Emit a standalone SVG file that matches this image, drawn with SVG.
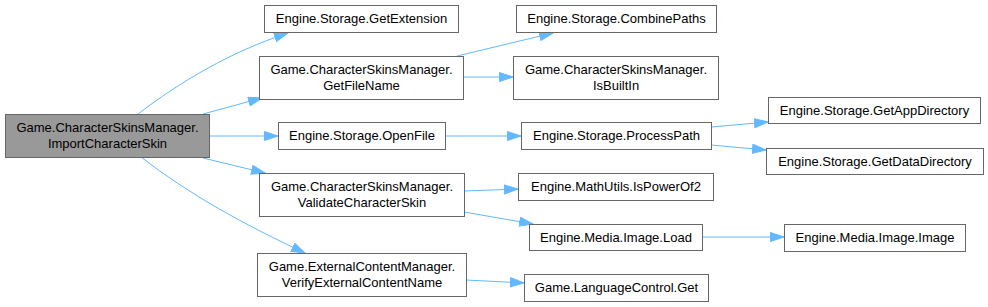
<svg xmlns="http://www.w3.org/2000/svg" width="988" height="307" viewBox="0 0 988 307">
<style>
.n rect{fill:#fff;stroke:#666;stroke-width:1}
.n.root rect{fill:#999}
.n text{font-family:"Liberation Sans",Arial,sans-serif;font-size:13px;fill:#000;text-anchor:middle}
.e path{fill:none;stroke:#63b8ff;stroke-width:1;marker-end:url(#ah)}
</style>
<defs>
<marker id="ah" markerUnits="userSpaceOnUse" markerWidth="16" markerHeight="12" refX="14" refY="5" orient="auto">
<path d="M0.5,0.5 L14,5 L0.5,9.5 z" fill="#63b8ff" stroke="#63b8ff" stroke-width="1"/>
</marker>
</defs>
<rect width="988" height="307" fill="#fff"/>
<g id="edges" class="e">
<path d="M138,114 C180,82 230,52 288,33"/>
<path d="M203,114 L262,98"/>
<path d="M210,136 L278,136"/>
<path d="M203,158 L265,173"/>
<path d="M141,157 C190,195 245,225 305,253"/>
<path d="M457,56 L553,33"/>
<path d="M463,77 L513,77"/>
<path d="M445,136 L521,136"/>
<path d="M711,127 L768,122"/>
<path d="M711,145 L766,150"/>
<path d="M464,191 L518,189"/>
<path d="M464,212 L533,224"/>
<path d="M702,237 L784,237"/>
<path d="M466,280 L524,283"/>
</g>
<g id="root" class="n root"><rect x="5.5" y="114.5" width="204" height="43"/><text x="107.5" y="131.5">Game.CharacterSkinsManager.</text><text x="107.5" y="147.5">ImportCharacterSkin</text></g>
<g id="getextension" class="n"><rect x="264.5" y="5.5" width="194" height="27"/><text x="361.5" y="22.5">Engine.Storage.GetExtension</text></g>
<g id="getfilename" class="n"><rect x="259.5" y="56.5" width="204" height="43"/><text x="361.5" y="73.5">Game.CharacterSkinsManager.</text><text x="361.5" y="89.5">GetFileName</text></g>
<g id="openfile" class="n"><rect x="278.5" y="122.5" width="167" height="27"/><text x="362" y="139.5">Engine.Storage.OpenFile</text></g>
<g id="validate" class="n"><rect x="259.5" y="173.5" width="205" height="43"/><text x="362" y="190.5">Game.CharacterSkinsManager.</text><text x="362" y="206.5">ValidateCharacterSkin</text></g>
<g id="verify" class="n"><rect x="257.5" y="253.5" width="209" height="43"/><text x="362" y="270.5">Game.ExternalContentManager.</text><text x="362" y="286.5">VerifyExternalContentName</text></g>
<g id="combinepaths" class="n"><rect x="516.5" y="5.5" width="200" height="27"/><text x="616.5" y="22.5">Engine.Storage.CombinePaths</text></g>
<g id="isbuiltin" class="n"><rect x="513.5" y="56.5" width="205" height="43"/><text x="616" y="73.5">Game.CharacterSkinsManager.</text><text x="616" y="89.5">IsBuiltIn</text></g>
<g id="processpath" class="n"><rect x="521.5" y="122.5" width="190" height="27"/><text x="616.5" y="139.5">Engine.Storage.ProcessPath</text></g>
<g id="ispowerof2" class="n"><rect x="518.5" y="173.5" width="195" height="27"/><text x="616" y="190.5">Engine.MathUtils.IsPowerOf2</text></g>
<g id="imageload" class="n"><rect x="529.5" y="224.5" width="173" height="26"/><text x="616" y="241.5">Engine.Media.Image.Load</text></g>
<g id="langget" class="n"><rect x="524.5" y="274.5" width="184" height="27"/><text x="616.5" y="291.5">Game.LanguageControl.Get</text></g>
<g id="getappdir" class="n"><rect x="768.5" y="97.5" width="212" height="26"/><text x="874.5" y="114.5">Engine.Storage.GetAppDirectory</text></g>
<g id="getdatadir" class="n"><rect x="766.5" y="148.5" width="217" height="26"/><text x="875" y="165.5">Engine.Storage.GetDataDirectory</text></g>
<g id="imageimage" class="n"><rect x="784.5" y="224.5" width="181" height="27"/><text x="875" y="241.5">Engine.Media.Image.Image</text></g>
</svg>
